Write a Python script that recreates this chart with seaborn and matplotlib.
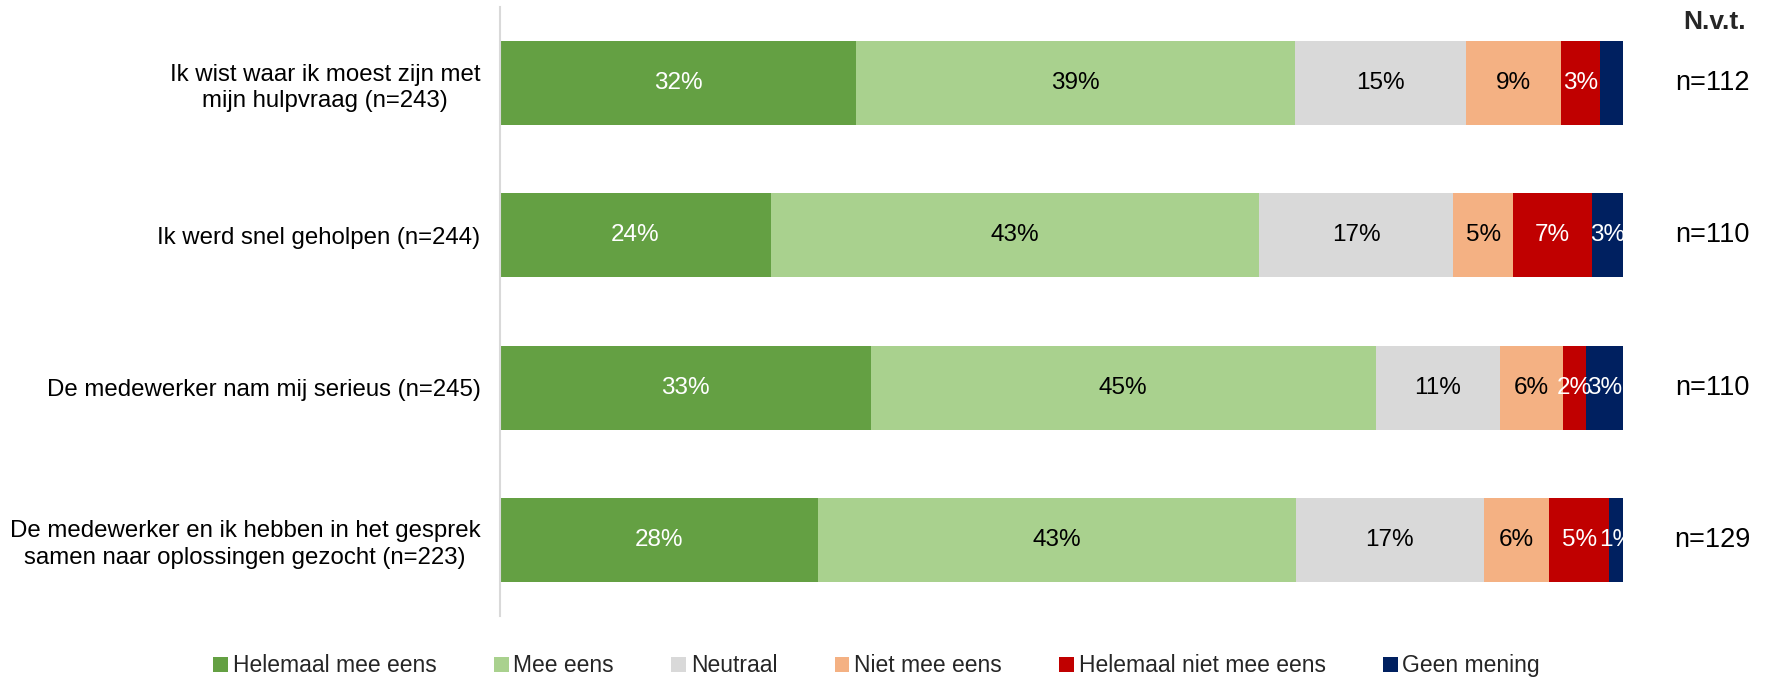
import numpy as np
import pandas as pd
import matplotlib
matplotlib.use("Agg")
import matplotlib.pyplot as plt
import seaborn as sns
from matplotlib.patches import Patch
import matplotlib.transforms as mtransforms

# ---------------- data ----------------
categories = [
    "Ik wist waar ik moest zijn met\nmijn hulpvraag (n=243)",
    "Ik werd snel geholpen (n=244)",
    "De medewerker nam mij serieus (n=245)",
    "De medewerker en ik hebben in het gesprek\nsamen naar oplossingen gezocht (n=223)",
]
series = ["Helemaal mee eens", "Mee eens", "Neutraal", "Niet mee eens",
          "Helemaal niet mee eens", "Geen mening"]
helemaal_mee_eens = [31.7, 24.1, 33.0, 28.3]
mee_eens = [39.1, 43.5, 45.0, 42.6]
neutraal = [15.2, 17.3, 11.05, 16.7]
niet_mee_eens = [8.5, 5.3, 5.65, 5.8]
helemaal_niet_mee_eens = [3.5, 7.0, 2.0, 5.4]
geen_mening = [2.0, 2.8, 3.3, 1.3]
bar_labels = [
    ["32%", "39%", "15%", "9%", "3%", ""],
    ["24%", "43%", "17%", "5%", "7%", "3%"],
    ["33%", "45%", "11%", "6%", "2%", "3%"],
    ["28%", "43%", "17%", "6%", "5%", "1%"],
]
nvt_labels = ["n=112", "n=110", "n=110", "n=129"]

colors = ["#64A043", "#A9D18E", "#D9D9D9", "#F4B183", "#C00000", "#002060"]
text_colors = ["white", "black", "black", "black", "white", "white"]

values = np.array([helemaal_mee_eens, mee_eens, neutraal, niet_mee_eens,
                   helemaal_niet_mee_eens, geen_mening])
cum = np.cumsum(values, axis=0)

# ---------------- plot ----------------
sns.set_style("white")
plt.rcParams["font.family"] = ["Liberation Sans", "DejaVu Sans"]

fig = plt.figure(figsize=(17.71, 6.8), dpi=100)
ax = fig.add_axes([0.2823, 0.0941, 0.9164 - 0.2823, 0.9897 - 0.0941])

for i in range(len(series) - 1, -1, -1):
    df = pd.DataFrame({"cat": categories, "val": cum[i]})
    sns.barplot(data=df, x="val", y="cat", orient="h", color=colors[i],
                width=0.553, ax=ax, saturation=1, edgecolor="none",
                linewidth=0)

for r in range(len(categories)):
    for i in range(len(series)):
        lab = bar_labels[r][i]
        if not lab:
            continue
        center = cum[i][r] - values[i][r] / 2
        ax.text(center, r, lab, ha="center", va="center", fontsize=17.5,
                color=text_colors[i])

ax.set_xlim(0, 100)
ax.set_ylim(3.5, -0.5)
ax.set_xlabel("")
ax.set_ylabel("")
ax.set_xticks([])
for s in ["top", "right", "bottom"]:
    ax.spines[s].set_visible(False)
ax.spines["left"].set_color("#D9D9D9")
ax.spines["left"].set_linewidth(1.5)
ax.tick_params(axis="y", length=0, pad=14, labelsize=17.3, labelcolor="black")
for t in ax.get_yticklabels():
    t.set_multialignment("center")
    t.set_linespacing(1.25)

trans = mtransforms.blended_transform_factory(fig.transFigure, ax.transData)
for r, lab in enumerate(nvt_labels):
    ax.text(0.967, r, lab, transform=trans, ha="center", va="center",
            fontsize=19.5, color="black", clip_on=False)
fig.text(0.968, 0.968, "N.v.t.", ha="center", va="center", fontsize=19,
         fontweight="bold")

handles = [Patch(facecolor=c, edgecolor="none") for c in colors]
fig.legend(handles, series, loc="center", bbox_to_anchor=(0.495, 0.021),
           ncol=6, frameon=False, fontsize=16.5, handlelength=0.65,
           handleheight=0.65, handletextpad=0.2, columnspacing=2.5)

fig.savefig("out.png", dpi=100)
